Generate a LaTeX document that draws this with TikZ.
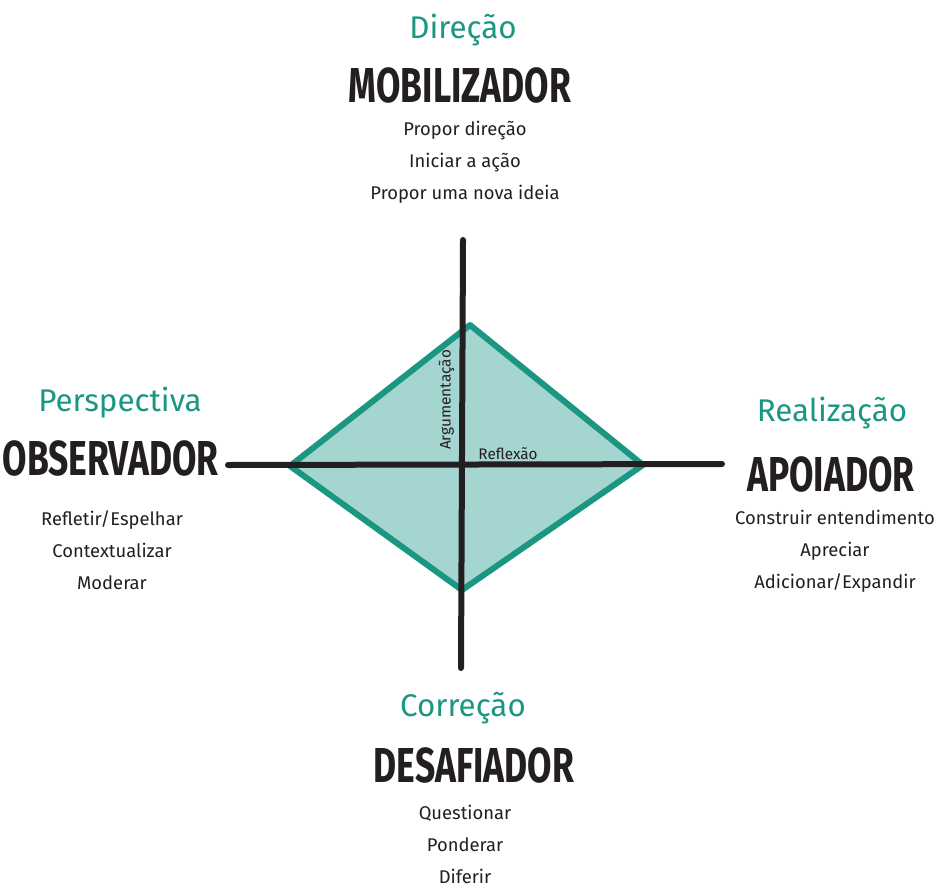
\documentclass[tikz,border=0pt]{standalone}
\usepackage{fontspec}
\setmainfont{Fira Sans}
\usepackage{xcolor}
\definecolor{papelteal}{RGB}{27, 150, 131}
\definecolor{papelfill}{RGB}{165, 213, 208}
\definecolor{tinta}{RGB}{35, 31, 32}
\usetikzlibrary{positioning, calc}
\tikzset{
  eixo/.style={line width=4.5pt, tinta, line cap=round},
  papel/.style={font=\fontsize{23.5}{23.5}\selectfont, text=papelteal, inner sep=0pt},
  titulo/.style={font=\fontsize{32}{32}\selectfont\bfseries, text=tinta, inner sep=0pt},
  acoes/.style={font=\fontsize{13.8}{24}\selectfont, text=tinta, align=center, inner sep=0pt},
  rotulo/.style={font=\fontsize{11.5}{11.5}\selectfont, text=tinta, inner sep=1pt}
}
\newcommand{\largo}[1]{\scalebox{0.83}[1.15]{#1}}
\begin{document}
\begin{tikzpicture}[x=0.75pt, y=-0.75pt]
\useasboundingbox (0,0) rectangle (937,892);

% diamond and axes
\coordinate (dtop) at (470,325);
\coordinate (dright) at (643,465);
\coordinate (dbottom) at (462,590);
\coordinate (dleft) at (290,466);
\coordinate (etop) at (463,240);
\coordinate (ebottom) at (461,668);
\coordinate (eleft) at (228,465);
\coordinate (eright) at (722,464);

\filldraw[fill=papelfill, draw=papelteal, line width=4.5pt, line join=round]
  (dtop) -- (dright) -- (dbottom) -- (dleft) -- cycle;
\draw[eixo] (etop) -- (ebottom);
\draw[eixo] (eleft) -- (eright);

\node[rotulo, rotate=90, anchor=south] (argum) at (456,400) {Argumentação};
\node[rotulo, anchor=south] (reflex) at (508,461) {Reflexão};

% top
\node[papel] (direcao) at (463,30) {Direção};
\node[titulo] (mobil) at (460,85) {\largo{MOBILIZADOR}};
\node[acoes, anchor=north] (mobacoes) at (465,121) {Propor direção\\Iniciar a ação\\Propor uma nova ideia};

% left
\node[papel] (perspec) at (120,403) {Perspectiva};
\node[titulo, anchor=east] (observ) at (219,458) {\largo{OBSERVADOR}};
\node[acoes, anchor=north] (obsacoes) at (112,510) {Refletir/Espelhar\\Contextualizar\\Moderar};

% right
\node[papel] (realiz) at (832,413) {Realização};
\node[titulo] (apoiad) at (831,474) {\largo{APOIADOR}};
\node[acoes, anchor=north] (apoacoes) at (835,510) {Construir entendimento\\Apreciar\\Adicionar/Expandir};

% bottom
\node[papel] (correc) at (463,708) {Correção};
\node[titulo] (desaf) at (474,765) {\largo{DESAFIADOR}};
\node[acoes, anchor=north] (desacoes) at (465,805) {Questionar\\Ponderar\\Diferir};
\end{tikzpicture}
\end{document}
